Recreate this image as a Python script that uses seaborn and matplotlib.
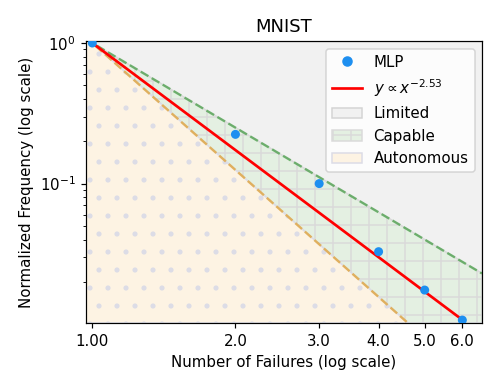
import numpy as np
import matplotlib
matplotlib.use("Agg")
import matplotlib.pyplot as plt
import seaborn as sns
from matplotlib.patches import Patch
from matplotlib.lines import Line2D
from matplotlib.ticker import NullFormatter, NullLocator

# observed data (MLP on MNIST)
failures = [1, 2, 3, 4, 5, 6]
freq = [1.0, 0.224, 0.100, 0.0328, 0.0175, 0.0107]
fit_exp = -2.53

# region boundaries y = x^k
capable_exp = -2
autonomous_exp = -3

x_lim = (0.97, 6.6)
y_lim = (0.0102, 1.033)
xtick_vals = [1, 2, 3, 4, 5, 6]
xtick_labels = ["1.00", "2.0", "3.0", "4.0", "5.0", "6.0"]

plt.rcParams["hatch.linewidth"] = 1.0

fig = plt.figure(figsize=(498 / 108, 388 / 108), dpi=108)
ax = fig.add_axes([0.1727, 0.1675, 0.7952, 0.7268])
ax.set_xscale("log")
ax.set_yscale("log")

xs = np.logspace(np.log10(x_lim[0]), np.log10(x_lim[1]), 200)
upper = xs ** capable_exp
lower = xs ** autonomous_exp

# shaded regions
ax.fill_between(xs, upper, y_lim[1], facecolor="#f1f1f1", edgecolor="#d4d4d4", lw=1, zorder=0)
ax.fill_between(xs, lower, upper, facecolor="#e4f0e2", edgecolor="#dadada", hatch="+", lw=1, zorder=0)
ax.fill_between(xs, y_lim[0], lower, facecolor="#fdf3e3", edgecolor="#dcdce6", hatch=".", lw=1, zorder=0)

# boundary lines
ax.plot(xs, upper, color="green", alpha=0.5, ls="--", lw=1.6, zorder=1)
ax.plot(xs, lower, color="#e0a848", alpha=0.85, ls="--", lw=1.6, zorder=1)

# power-law fit
fit_x = np.linspace(failures[0], failures[-1], 50)
sns.lineplot(x=fit_x, y=fit_x ** fit_exp, color="red", lw=1.8, ax=ax, zorder=2)

# data points
sns.scatterplot(x=failures, y=freq, color="#1e8ff0", s=36, edgecolor="none", ax=ax, zorder=3)

ax.set_xlim(*x_lim)
ax.set_ylim(*y_lim)
ax.set_xticks(xtick_vals)
ax.set_xticklabels(xtick_labels)
ax.xaxis.set_minor_locator(NullLocator())
ax.yaxis.set_minor_formatter(NullFormatter())

ax.set_title("MNIST", fontsize=12)
ax.set_xlabel("Number of Failures (log scale)")
ax.set_ylabel("Normalized Frequency (log scale)")

handles = [
    Line2D([], [], marker="o", ls="none", color="#1e8ff0", markersize=6),
    Line2D([], [], color="red", lw=1.8),
    Patch(facecolor="#f1f1f1", edgecolor="#d4d4d4"),
    Patch(facecolor="#e4f0e2", edgecolor="#dadada", hatch="+"),
    Patch(facecolor="#fdf3e3", edgecolor="#dcdce6"),
]
labels = ["MLP", r"$y \propto x^{%.2f}$" % fit_exp, "Limited", "Capable", "Autonomous"]
ax.legend(handles, labels, loc="upper right")

fig.savefig("out.png", dpi=108)
